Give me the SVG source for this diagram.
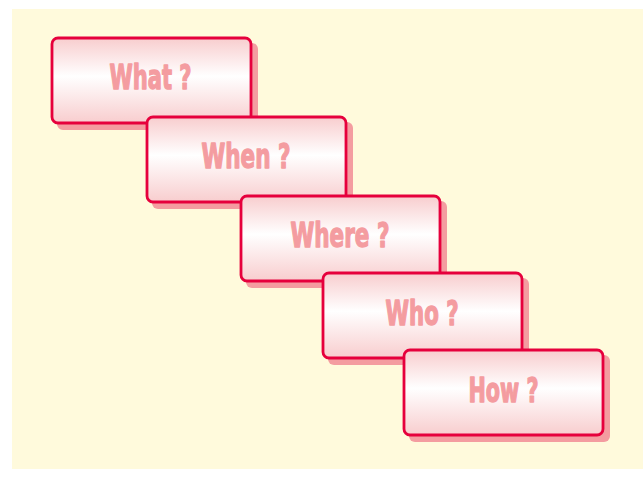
<svg xmlns="http://www.w3.org/2000/svg" width="643" height="477" viewBox="0 0 643 477">
<defs>
<linearGradient id="g" x1="0" y1="0" x2="0" y2="1">
<stop offset="0" stop-color="#f8cdce"/>
<stop offset="0.45" stop-color="#ffffff"/>
<stop offset="1" stop-color="#f8cdce"/>
</linearGradient>
</defs>
<style>
.sh{fill:#f49ca0}
.box{fill:url(#g);stroke:#e6003c;stroke-width:2.8}
.t{font-family:"Liberation Sans Narrow","DejaVu Sans Condensed","Liberation Sans",sans-serif;font-weight:bold;font-size:33px;fill:#f49ca0;stroke:#f49ca0;stroke-width:1.3;stroke-linejoin:round}
</style>
<rect x="12" y="9" width="631" height="460" fill="#fffadc"/>
<g id="connectors"/>
<g id="what">
<rect class="sh" x="57" y="43" width="201" height="87" rx="6"/>
<rect class="box" x="52" y="38" width="199" height="85" rx="6"/>
<text class="t" x="109.5" y="88.5" textLength="82" lengthAdjust="spacingAndGlyphs">What ?</text>
</g>
<g id="when">
<rect class="sh" x="152" y="122" width="201" height="87" rx="6"/>
<rect class="box" x="147" y="117" width="199" height="85" rx="6"/>
<text class="t" x="201.5" y="167.5" textLength="89" lengthAdjust="spacingAndGlyphs">When ?</text>
</g>
<g id="where">
<rect class="sh" x="246" y="201" width="201" height="87" rx="6"/>
<rect class="box" x="241" y="196" width="199" height="85" rx="6"/>
<text class="t" x="290.5" y="246.5" textLength="99" lengthAdjust="spacingAndGlyphs">Where ?</text>
</g>
<g id="who">
<rect class="sh" x="328" y="278" width="201" height="87" rx="6"/>
<rect class="box" x="323" y="273" width="199" height="85" rx="6"/>
<text class="t" x="385.5" y="324.5" textLength="73" lengthAdjust="spacingAndGlyphs">Who ?</text>
</g>
<g id="how">
<rect class="sh" x="409" y="355" width="201" height="87" rx="6"/>
<rect class="box" x="404" y="350" width="199" height="85" rx="6"/>
<text class="t" x="468.5" y="401.5" textLength="70" lengthAdjust="spacingAndGlyphs">How ?</text>
</g>
</svg>
